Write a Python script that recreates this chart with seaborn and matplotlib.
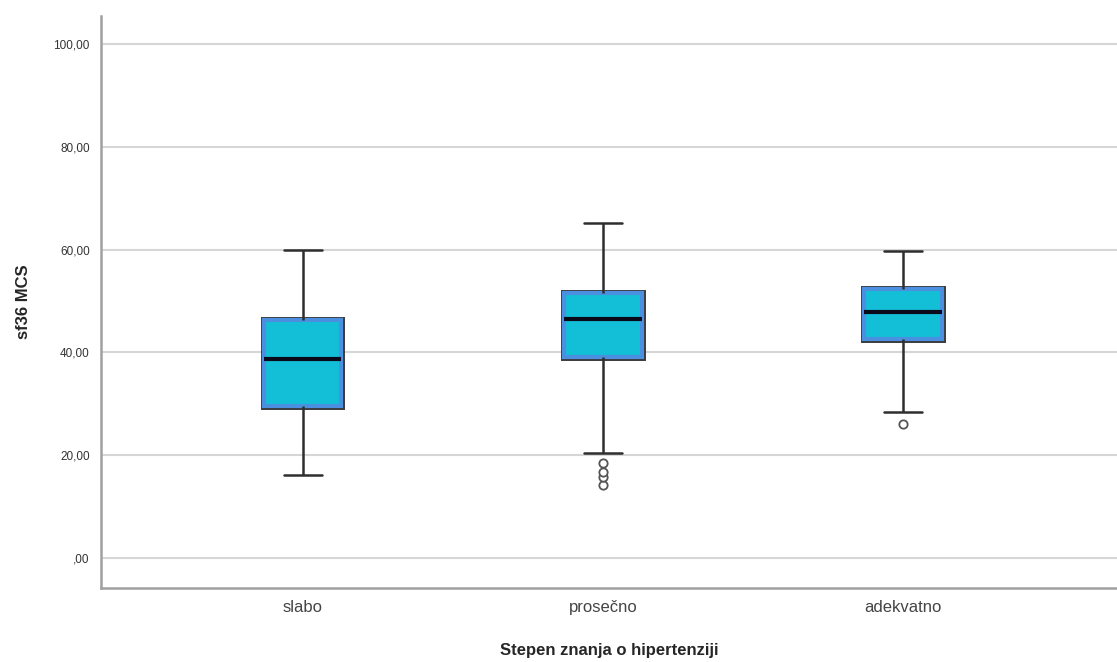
import pandas as pd
import matplotlib
matplotlib.use('Agg')
import matplotlib.pyplot as plt
import matplotlib.patheffects as pe
import seaborn as sns

# Vrednosti ocitane sa slike (sf36 MCS po grupama)
groups = ['slabo', 'prosečno', 'adekvatno']
whisker_low = [16.1, 20.4, 28.4]
q1 = [29.6, 39.1, 42.6]
median = [38.7, 46.5, 47.9]
q3 = [46.3, 51.6, 52.3]
whisker_high = [59.9, 65.2, 59.7]
outliers = [[], [18.5, 16.8, 15.8, 14.2], [26.1]]

# uzorak po grupi: n = 4m+1 vrednosti, tako da kvartili padaju tacno na q1/median/q3
rows = []
for i, g in enumerate(groups):
    low = sorted(outliers[i]) + [whisker_low[i]]
    m = len(low)
    vals = low + [q1[i]] * m + [median[i]] * m + [q3[i]] * m + [whisker_high[i]]
    for v in vals:
        rows.append({'grupa': g, 'sf36 MCS': v})
df = pd.DataFrame(rows)

sns.set_style('white')
plt.rcParams['font.family'] = ['Liberation Sans', 'DejaVu Sans']

fig = plt.figure(figsize=(11.17, 6.62), dpi=100)
ax = fig.add_axes([0.0904, 0.1118, 0.9096, 0.8640])

sns.boxplot(data=df, x='grupa', y='sf36 MCS', order=groups, ax=ax,
            width=0.257, color='#12bfd6', saturation=1, linewidth=1.8,
            linecolor='#2e2e2e', whis=1.5,
            boxprops=dict(edgecolor='#4a8fe0', linewidth=3),
            medianprops=dict(color='#0a0a1a', linewidth=3),
            flierprops=dict(marker='o', markerfacecolor='white',
                            markeredgecolor='#555555', markersize=6,
                            markeredgewidth=1.3))

for p in ax.patches:
    p.set_path_effects([pe.Stroke(linewidth=5, foreground='#3a3a3a'), pe.Normal()])

ax.set_ylim(-5.8, 105.4)
ax.set_xlim(-0.673, 2.713)
ticks = [0, 20, 40, 60, 80, 100]
labels = []
for t in ticks:
    s = f'{t:.2f}'.replace('.', ',')
    if t == 0:
        s = s[1:]
    labels.append(s)
ax.set_yticks(ticks)
ax.set_yticklabels(labels, fontsize=8.5, color='#333333')
ax.tick_params(axis='x', labelsize=12, colors='#444444', pad=9, length=0)
ax.tick_params(axis='y', length=0, pad=8)
ax.yaxis.grid(True, color='#d6d6d6', linewidth=1.5)
ax.set_axisbelow(True)

for s in ['top', 'right']:
    ax.spines[s].set_visible(False)
for s in ['left', 'bottom']:
    ax.spines[s].set_color('#a0a0a0')
    ax.spines[s].set_linewidth(1.8)

ax.set_ylabel('sf36 MCS', fontsize=12, fontweight='bold', labelpad=16)
ax.set_xlabel('Stepen znanja o hipertenziji', fontsize=12, fontweight='bold', labelpad=20)

fig.savefig('out.png', dpi=100)
